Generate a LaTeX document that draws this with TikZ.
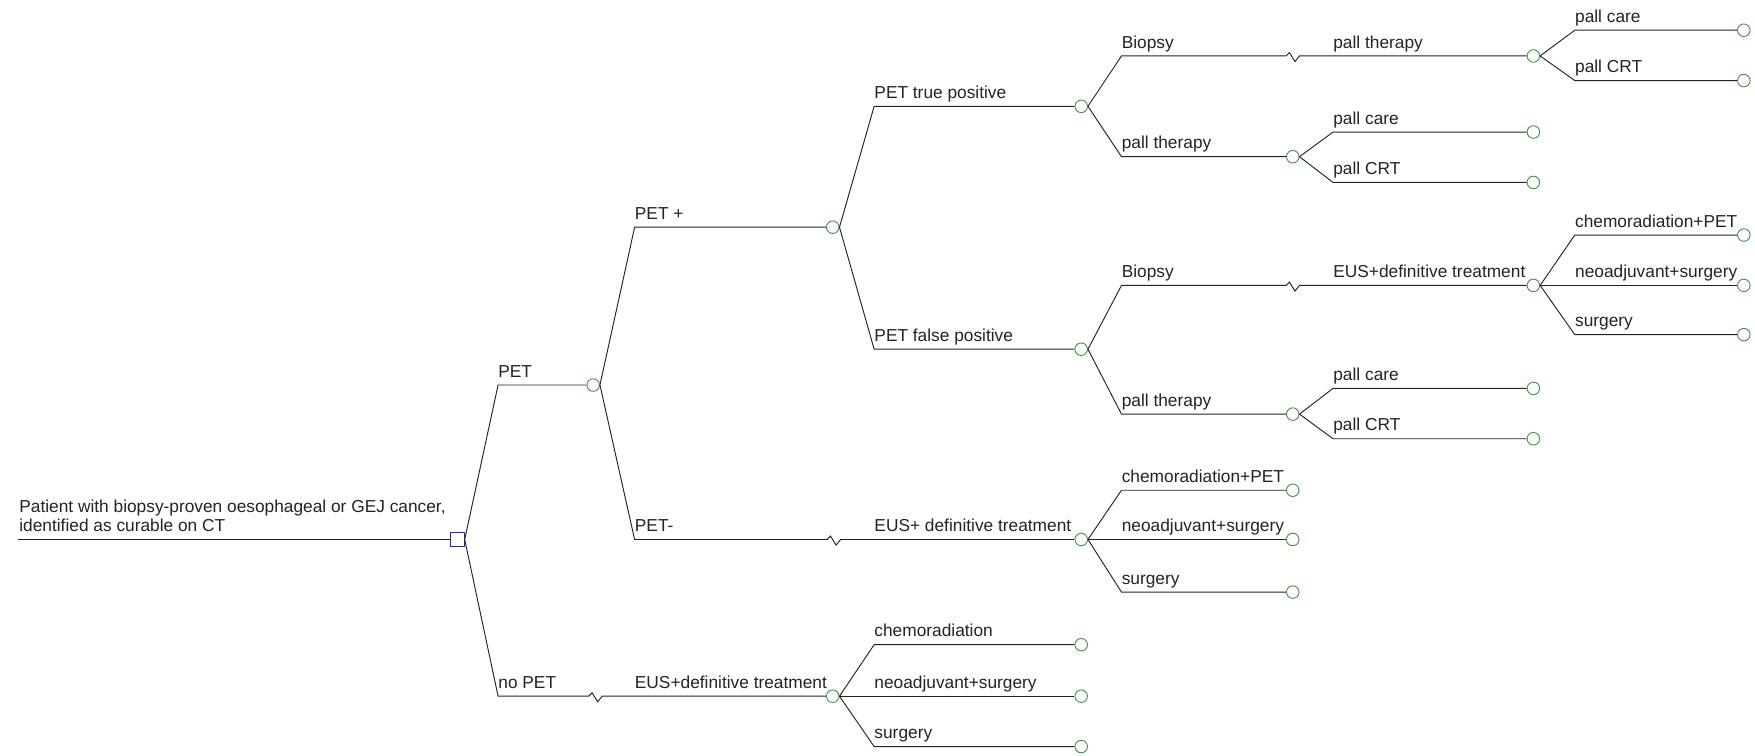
\documentclass[tikz,border=0pt]{standalone}
\usepackage{fontspec}
\setmainfont{Liberation Sans}
\definecolor{chancegreen}{RGB}{70,150,70}
\definecolor{decisionblue}{RGB}{45,45,135}
\definecolor{branchgray}{RGB}{35,35,35}
\tikzset{brk/.style={insert path={-- ++(3,-3) -- ++(5,8) -- ++(4,-5)}}}
\begin{document}
\begin{tikzpicture}
         [x=0.025cm, y=-0.025cm,
          chance node/.style={circle,draw=chancegreen,line width=0.6pt,minimum size=0.28cm,inner sep=0pt},
          decision node/.style={rectangle,draw=decisionblue,line width=0.7pt,minimum size=0.31cm,inner sep=0pt},
          branch/.style={draw=branchgray,line width=0.6pt},
          lbl/.style={anchor=base west,inner sep=0pt,text=branchgray,font=\fontsize{11}{13}\selectfont}]
         \useasboundingbox (0,0) rectangle (1568,675);

         % decision node and chance nodes
         \coordinate (start) at (16,482);
         \node[decision node] (dec) at (408.5,482) {};
         \node[chance node] (c1) at (530,344) {};
         \node[chance node] (c2) at (744,203) {};
         \node[chance node] (c3) at (966,95) {};
         \node[chance node] (c4) at (1370,50) {};
         \node[chance node] (c5) at (1155,140) {};
         \node[chance node] (c6) at (966,312) {};
         \node[chance node] (c7) at (1370,255) {};
         \node[chance node] (c8) at (1155,370) {};
         \node[chance node] (c9) at (966,482) {};
         \node[chance node] (c10) at (744,622) {};

         % terminal nodes
         \node[chance node] (t1) at (1558,27) {};
         \node[chance node] (t2) at (1558,72) {};
         \node[chance node] (t3) at (1370,118) {};
         \node[chance node] (t4) at (1370,163) {};
         \node[chance node] (t5) at (1558,210) {};
         \node[chance node] (t6) at (1558,255) {};
         \node[chance node] (t7) at (1558,299) {};
         \node[chance node] (t8) at (1370,347) {};
         \node[chance node] (t9) at (1370,392) {};
         \node[chance node] (t10) at (1155,438) {};
         \node[chance node] (t11) at (1155,482) {};
         \node[chance node] (t12) at (1155,529) {};
         \node[chance node] (t13) at (966,576) {};
         \node[chance node] (t14) at (966,622) {};
         \node[chance node] (t15) at (966,667) {};

         % zigzag points
         \coordinate (z1) at (1149,50);
         \coordinate (z2) at (1149,255);
         \coordinate (z3) at (739,482);
         \coordinate (z4) at (526,622);

         % labels
         \node[lbl] (l-patient) at (17,458) {Patient with biopsy-proven oesophageal or GEJ cancer,};
         \node[lbl] (l-curable) at (17,475) {identified as curable on CT};
         \node[lbl] (l-pet) at (445,337) {PET};
         \node[lbl] (l-nopet) at (445,615) {no PET};
         \node[lbl] (l-petplus) at (567,196) {PET +};
         \node[lbl] (l-petminus) at (567,475) {PET-};
         \node[lbl] (l-eus1) at (781,475) {EUS+ definitive treatment};
         \node[lbl] (l-eus2) at (567,615) {EUS+definitive treatment};
         \node[lbl] (l-truepos) at (781,88) {PET true positive};
         \node[lbl] (l-falsepos) at (781,305) {PET false positive};
         \node[lbl] (l-chemo1) at (781,569) {chemoradiation};
         \node[lbl] (l-neo1) at (781,615) {neoadjuvant+surgery};
         \node[lbl] (l-surg1) at (781,660) {surgery};
         \node[lbl] (l-biopsy1) at (1002,43) {Biopsy};
         \node[lbl] (l-pall1) at (1191,43) {pall therapy};
         \node[lbl] (l-pall2) at (1002,133) {pall therapy};
         \node[lbl] (l-care1) at (1407,20) {pall care};
         \node[lbl] (l-crt1) at (1407,65) {pall CRT};
         \node[lbl] (l-care2) at (1191,111) {pall care};
         \node[lbl] (l-crt2) at (1191,156) {pall CRT};
         \node[lbl] (l-biopsy2) at (1002,248) {Biopsy};
         \node[lbl] (l-eus3) at (1191,248) {EUS+definitive treatment};
         \node[lbl] (l-pall3) at (1002,363) {pall therapy};
         \node[lbl] (l-care3) at (1191,340) {pall care};
         \node[lbl] (l-crt3) at (1191,385) {pall CRT};
         \node[lbl] (l-chemo2) at (1407,203) {chemoradiation+PET};
         \node[lbl] (l-neo2) at (1407,248) {neoadjuvant+surgery};
         \node[lbl] (l-surg2) at (1407,292) {surgery};
         \node[lbl] (l-chemo3) at (1002,431) {chemoradiation+PET};
         \node[lbl] (l-neo3) at (1002,475) {neoadjuvant+surgery};
         \node[lbl] (l-surg3) at (1002,522) {surgery};

         % branches
         \draw[branch] (start) -- (dec);
         \draw[branch] (dec.east) -- (c1 -| l-pet.west) -- (c1);
         \draw[branch] (dec.east) -- (c10 -| l-nopet.west) -- (z4) [brk] -- (c10);
         \draw[branch] (c1.east) -- (c2 -| l-petplus.west) -- (c2);
         \draw[branch] (c1.east) -- (c9 -| l-petminus.west) -- (z3) [brk] -- (c9);
         \draw[branch] (c2.east) -- (c3 -| l-truepos.west) -- (c3);
         \draw[branch] (c2.east) -- (c6 -| l-falsepos.west) -- (c6);
         \draw[branch] (c3.east) -- (c4 -| l-biopsy1.west) -- (z1) [brk] -- (c4);
         \draw[branch] (c3.east) -- (c5 -| l-pall2.west) -- (c5);
         \draw[branch] (c4.east) -- (t1 -| l-care1.west) -- (t1);
         \draw[branch] (c4.east) -- (t2 -| l-crt1.west) -- (t2);
         \draw[branch] (c5.east) -- (t3 -| l-care2.west) -- (t3);
         \draw[branch] (c5.east) -- (t4 -| l-crt2.west) -- (t4);
         \draw[branch] (c6.east) -- (c7 -| l-biopsy2.west) -- (z2) [brk] -- (c7);
         \draw[branch] (c6.east) -- (c8 -| l-pall3.west) -- (c8);
         \draw[branch] (c7.east) -- (t5 -| l-chemo2.west) -- (t5);
         \draw[branch] (c7.east) -- (t6);
         \draw[branch] (c7.east) -- (t7 -| l-surg2.west) -- (t7);
         \draw[branch] (c8.east) -- (t8 -| l-care3.west) -- (t8);
         \draw[branch] (c8.east) -- (t9 -| l-crt3.west) -- (t9);
         \draw[branch] (c9.east) -- (t10 -| l-chemo3.west) -- (t10);
         \draw[branch] (c9.east) -- (t11);
         \draw[branch] (c9.east) -- (t12 -| l-surg3.west) -- (t12);
         \draw[branch] (c10.east) -- (t13 -| l-chemo1.west) -- (t13);
         \draw[branch] (c10.east) -- (t14);
         \draw[branch] (c10.east) -- (t15 -| l-surg1.west) -- (t15);
      \end{tikzpicture}
\end{document}
